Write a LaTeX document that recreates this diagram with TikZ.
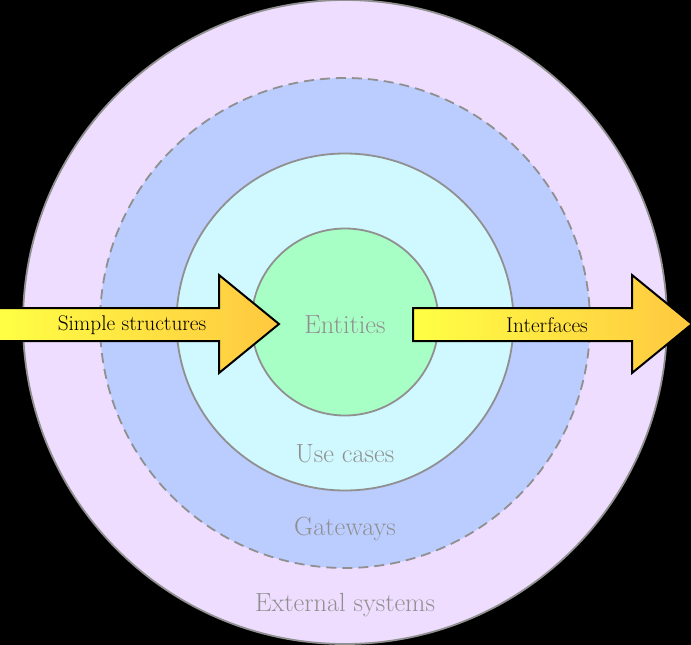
\documentclass[tikz,border=0pt]{standalone}
\usepackage{fontspec}
\usetikzlibrary{positioning}
\definecolor{externalfill}{RGB}{238,221,255}
\definecolor{gatewayfill}{RGB}{187,204,255}
\definecolor{usecasefill}{RGB}{208,248,255}
\definecolor{entityfill}{RGB}{168,255,198}
\definecolor{ringline}{RGB}{144,144,144}
\definecolor{labelgray}{RGB}{144,144,144}
\definecolor{arrowleft}{RGB}{255,255,68}
\definecolor{arrowright}{RGB}{255,200,64}
\tikzset{
x=1pt, y=-1pt, % pixel-like units, y pointing down
ring/.style={circle, draw=ringline, line width=1.8pt, inner sep=0pt, outer sep=0pt}, % every layer circle
layer/.style={text=labelgray, font=\fontsize{26.3}{30}\selectfont}, % the gray layer names
flow/.style={draw=black, line width=2pt, line join=miter, left color=arrowleft, right color=arrowright}, % the big arrows
flowtext/.style={text=black, font=\fontsize{21.3}{25}\selectfont}, % text on the arrows
}
\begin{document}
\begin{tikzpicture}
      \fill[black] (0,0) rectangle (691,645);
      \useasboundingbox (0,0) rectangle (691,645);

      \node[ring, fill=externalfill, minimum size=644pt] (external) at (345,322) {};
      \node[ring, fill=gatewayfill, dashed, dash pattern=on 10pt off 6pt, minimum size=490pt] (gateways) at (345,323) {};
      \node[ring, fill=usecasefill, minimum size=337pt] (usecases) at (345,322) {};
      \node[ring, fill=entityfill, minimum size=187pt] (entities) at (345,322) {};

      \node[layer] (entitiestext) at (345,325) {Entities};
      \node[layer] (usecasestext) at (345,454) {Use cases};
      \node[layer] (gatewaystext) at (345,529) {Gateways};
      \node[layer] (externaltext) at (345,605) {External systems};

      % incoming arrow
      \path[flow] (-2,308) -- (219,308) -- (219,275) -- (279,324) -- (219,373) -- (219,341) -- (-2,341) -- cycle;
      \node[flowtext] (simpletext) at (132,325) {Simple structures};

      % outgoing arrow
      \path[flow] (413,308) -- (632,308) -- (632,275) -- (692,324) -- (632,373) -- (632,341) -- (413,341) -- cycle;
      \node[flowtext] (interfacestext) at (547,325) {Interfaces};
\end{tikzpicture}
\end{document}
